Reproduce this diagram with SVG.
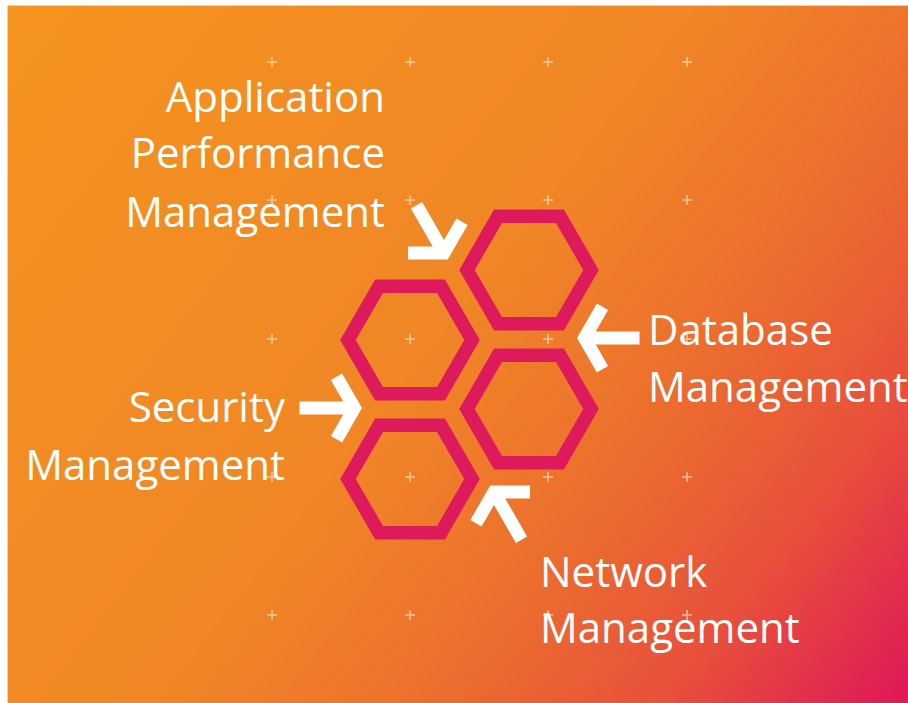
<svg xmlns="http://www.w3.org/2000/svg" xmlns:xlink="http://www.w3.org/1999/xlink" width="908" height="703" viewBox="0 0 908 703">
  <defs>
    <linearGradient id="bg" gradientUnits="userSpaceOnUse" x1="0" y1="0" x2="908" y2="703">
      <stop offset="0" stop-color="#F5941E"/>
      <stop offset="0.48" stop-color="#F08626"/>
      <stop offset="0.66" stop-color="#EC702D"/>
      <stop offset="0.83" stop-color="#E8503B"/>
      <stop offset="1" stop-color="#DF1759"/>
    </linearGradient>
    <path id="hex" d="M-62,0 L-31,-53.7 L31,-53.7 L62,0 L31,53.7 L-31,53.7 Z"/>
    <path id="arr" d="M-55,0 L0,0 M-18,-31.2 L0,0 L-18,31.2"/>
    <path id="plus" d="M-5,0 H5 M0,-5 V5"/>
  </defs>
  <style>
    .hex { fill: none; stroke: #DC1A5C; stroke-width: 13.5; stroke-linejoin: miter; }
    .arrow { fill: none; stroke: #FFFFFF; stroke-width: 13; stroke-linejoin: miter; stroke-linecap: butt; }
    .plus { fill: none; stroke: #FFE6C8; stroke-opacity: 0.7; stroke-width: 1.5; }
    .lbl { font-family: "Open Sans", "Liberation Sans", sans-serif; font-size: 42px; fill: #FFFFFF; }
    .end { text-anchor: end; }
  </style>

  <rect x="0" y="0" width="908" height="703" fill="#FFFFFF"/>
  <rect x="8" y="6" width="900" height="697" fill="url(#bg)"/>
  <line x1="7.5" y1="6" x2="7.5" y2="703" stroke="#E6D2C0" stroke-width="1"/>
  <line x1="8" y1="5.5" x2="908" y2="5.5" stroke="#E6D2C0" stroke-width="1"/>

  <g id="grid-marks">
    <use href="#plus" class="plus" x="272" y="62"/>
    <use href="#plus" class="plus" x="410" y="62"/>
    <use href="#plus" class="plus" x="548" y="62"/>
    <use href="#plus" class="plus" x="687" y="62"/>
    <use href="#plus" class="plus" x="272" y="200"/>
    <use href="#plus" class="plus" x="410" y="200"/>
    <use href="#plus" class="plus" x="548" y="200"/>
    <use href="#plus" class="plus" x="687" y="200"/>
    <use href="#plus" class="plus" x="272" y="339"/>
    <use href="#plus" class="plus" x="410" y="339"/>
    <use href="#plus" class="plus" x="548" y="339"/>
    <use href="#plus" class="plus" x="687" y="339"/>
    <use href="#plus" class="plus" x="272" y="477"/>
    <use href="#plus" class="plus" x="410" y="477"/>
    <use href="#plus" class="plus" x="548" y="477"/>
    <use href="#plus" class="plus" x="687" y="477"/>
    <use href="#plus" class="plus" x="272" y="615"/>
    <use href="#plus" class="plus" x="410" y="615"/>
    <use href="#plus" class="plus" x="548" y="615"/>
    <use href="#plus" class="plus" x="687" y="615"/>
  </g>

  <g id="hexagons">
    <use id="hex-top-right" href="#hex" class="hex" x="529" y="270"/>
    <use id="hex-mid-left" href="#hex" class="hex" x="410" y="340"/>
    <use id="hex-mid-right" href="#hex" class="hex" x="529" y="409"/>
    <use id="hex-bottom-left" href="#hex" class="hex" x="410" y="479"/>
  </g>

  <g id="connectors">
    <use href="#arr" class="arrow" transform="translate(444,253) rotate(60)"/>
    <use href="#arr" class="arrow" transform="translate(354.5,408)"/>
    <use href="#arr" class="arrow" transform="translate(584.5,338) rotate(180)"/>
    <use href="#arr" class="arrow" transform="translate(494,492) rotate(240)"/>
  </g>

  <g id="node-apm">
    <text class="lbl end" x="385" y="112">Application</text>
    <text class="lbl end" x="385" y="168">Performance</text>
    <text class="lbl end" x="385" y="227">Management</text>
  </g>
  <g id="node-security">
    <text class="lbl end" x="285" y="422">Security</text>
    <text class="lbl end" x="285" y="480">Management</text>
  </g>
  <g id="node-database">
    <text class="lbl" x="648" y="345">Database</text>
    <text class="lbl" x="648" y="402">Management</text>
  </g>
  <g id="node-network">
    <text class="lbl" x="540" y="587">Network</text>
    <text class="lbl" x="540" y="643">Management</text>
  </g>
</svg>
